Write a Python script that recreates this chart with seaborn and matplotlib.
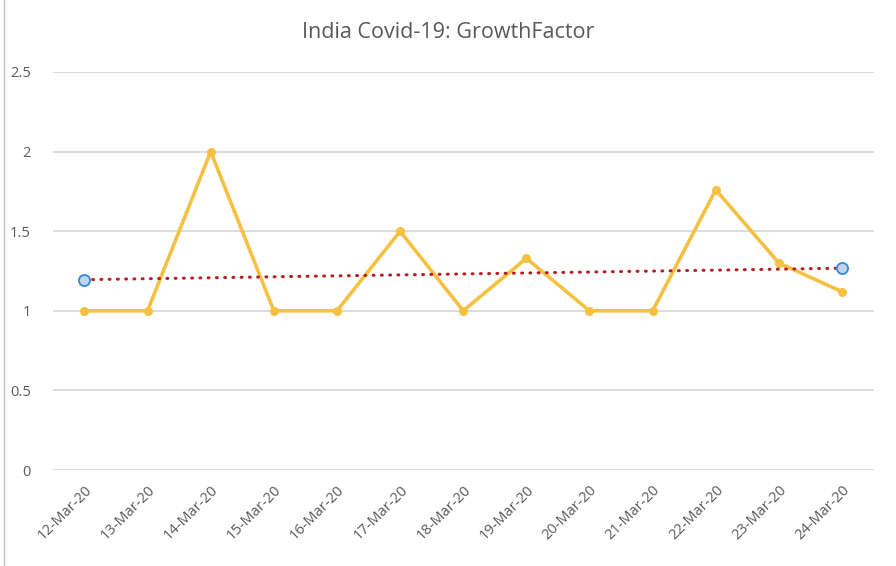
import numpy as np
import pandas as pd
import matplotlib
matplotlib.use("Agg")
import matplotlib.pyplot as plt
from matplotlib.lines import Line2D
import seaborn as sns

# data
dates = ["12-Mar-20", "13-Mar-20", "14-Mar-20", "15-Mar-20", "16-Mar-20",
         "17-Mar-20", "18-Mar-20", "19-Mar-20", "20-Mar-20", "21-Mar-20",
         "22-Mar-20", "23-Mar-20", "24-Mar-20"]
growth = [1.0, 1.0, 2.0, 1.0, 1.0, 1.5, 1.0, 1.33, 1.0, 1.0, 1.76, 1.3, 1.12]
yticks = [0, 0.5, 1, 1.5, 2, 2.5]
ytick_labels = ["0", "0.5", "1", "1.5", "2", "2.5"]

df = pd.DataFrame({"idx": np.arange(len(dates)), "growth": growth})

# linear trendline like Excel
slope, icpt = np.polyfit(df["idx"], df["growth"], 1)
trend_x = np.array([df["idx"].iloc[0], df["idx"].iloc[-1]])
trend_y = icpt + slope * trend_x

sns.set_style("white")
plt.rcParams['font.family'] = ['Open Sans', 'DejaVu Sans']

fig = plt.figure(figsize=(8.96, 5.66), dpi=100)
ax = fig.add_axes([0.059, 0.1696, 0.916, 0.7032])

for y in yticks:
    ax.axhline(y, color="#d9d9d9", lw=1.3, zorder=0)

sns.lineplot(data=df, x="idx", y="growth", ax=ax, color="#F6C142", lw=2.6,
             marker="o", markersize=6.5, markeredgewidth=0, zorder=3)

ax.plot(trend_x, trend_y, color="#B22222", lw=2.2, ls=(0, (0.3, 2.4)),
        dash_capstyle="round", zorder=4)
ax.plot(trend_x, trend_y, ls="none", marker="o", markersize=8,
        markerfacecolor="#BDD7EE", markeredgecolor="#3C84D6",
        markeredgewidth=1.3, zorder=5)

ax.set_xlim(-0.5, len(dates) - 0.5)
ax.set_ylim(0, 2.5)
ax.set_xticks(df["idx"])
ax.set_xticklabels(dates, rotation=45, ha="right", rotation_mode="anchor",
                   fontsize=10.5, color="#595959")
ax.set_yticks(yticks)
ax.set_yticklabels(ytick_labels, fontsize=10.5, color="#595959")
ax.tick_params(axis="y", length=0, pad=16)
ax.tick_params(axis="x", length=0, pad=9)
ax.set_xlabel("")
ax.set_ylabel("")
for s in ax.spines.values():
    s.set_visible(False)

fig.suptitle("India Covid-19: GrowthFactor", y=0.962, fontsize=15.5,
             color="#595959")

# chart frame edge on the left
fig.add_artist(Line2D([0.004, 0.004], [0.0, 1.0], color="#bfbfbf", lw=1,
                      transform=fig.transFigure))

fig.savefig("out.png", dpi=100)
